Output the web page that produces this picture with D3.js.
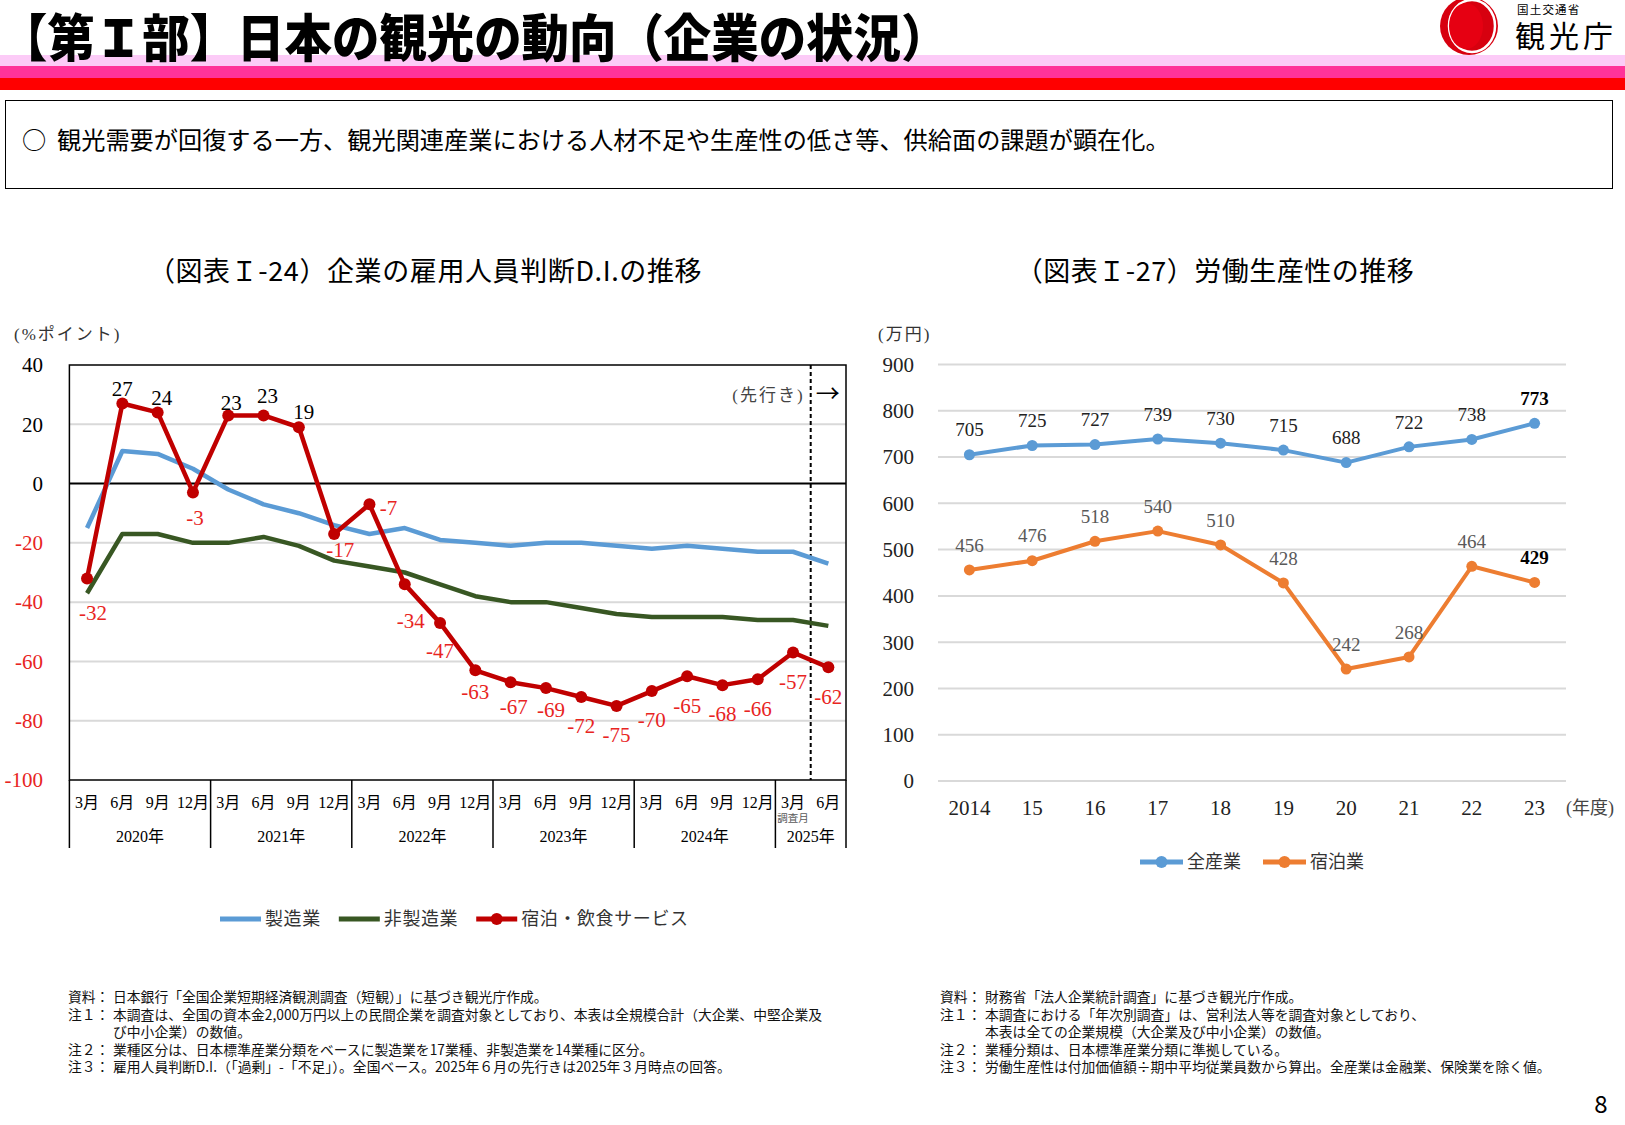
<!DOCTYPE html>
<html>
<head>
<meta charset="utf-8">
<script src="https://cdn.jsdelivr.net/npm/d3@7"></script>
<style>
body { margin: 0; background: #fff; }
</style>
</head>
<body>
<script>
// ---- data ----
const diMonths = ["3月", "6月", "9月", "12月", "3月", "6月", "9月", "12月", "3月", "6月", "9月", "12月",
    "3月", "6月", "9月", "12月", "3月", "6月", "9月", "12月", "3月", "6月"];
const diYears = ["2020年", "2021年", "2022年", "2023年", "2024年", "2025年"];
const manufacturing = [-15, 11, 10, 5, -2, -7, -10, -14, -17, -15, -19, -20, -21, -20, -20, -21, -22, -21, -22, -23, -23, -27];
const nonManufacturing = [-37, -17, -17, -20, -20, -18, -21, -26, -28, -30, -34, -38, -40, -40, -42, -44, -45, -45, -45, -46, -46, -48];
const hospitality = [-32, 27, 24, -3, 23, 23, 19, -17, -7, -34, -47, -63, -67, -69, -72, -75, -70, -65, -68, -66, -57, -62];
const diTicks = [40, 20, 0, -20, -40, -60, -80, -100];

const fiscalYears = ["2014", "15", "16", "17", "18", "19", "20", "21", "22", "23"];
const allIndustries = [705, 725, 727, 739, 730, 715, 688, 722, 738, 773];
const accommodation = [456, 476, 518, 540, 510, 428, 242, 268, 464, 429];
const prodTicks = [0, 100, 200, 300, 400, 500, 600, 700, 800, 900];

const JP = "'Noto Sans CJK JP', 'Noto Sans', sans-serif";
const SERIF = "'Liberation Serif', 'DejaVu Serif', 'Noto Sans CJK JP', serif";
const RED_TXT = "#e8251f";

const svg = d3.select("body").append("svg")
    .attr("width", 1625)
    .attr("height", 1125)
    .style("background", "#fff");

// ---- header ----
svg.append("rect").attr("x", 0).attr("y", 55).attr("width", 1625).attr("height", 11).attr("fill", "#fccbf7");
svg.append("rect").attr("x", 0).attr("y", 66).attr("width", 1625).attr("height", 12).attr("fill", "#ff3399");
svg.append("rect").attr("x", 0).attr("y", 78).attr("width", 1625).attr("height", 12).attr("fill", "#ff0000");

svg.append("text")
    .attr("transform", "translate(0,57) scale(0.93,1)")
    .attr("font-family", JP)
    .attr("font-weight", 900)
    .attr("font-size", 51)
    .text("【第Ｉ部】日本の観光の動向（企業の状況）");

// logo
const logo = svg.append("g");
logo.append("circle").attr("cx", 1469).attr("cy", 26).attr("r", 29).attr("fill", "#d7000f");
logo.append("ellipse").attr("cx", 1472).attr("cy", 26).attr("rx", 23).attr("ry", 26)
    .attr("fill", "none").attr("stroke", "#fff").attr("stroke-width", 2.5);
logo.append("ellipse").attr("cx", 1466).attr("cy", 26).attr("rx", 17).attr("ry", 23).attr("fill", "#e60012");
svg.append("text").attr("x", 1517).attr("y", 14).attr("font-family", JP).attr("font-size", 11.5)
    .attr("letter-spacing", 1.2).text("国土交通省");
svg.append("text").attr("x", 1515).attr("y", 47).attr("font-family", JP).attr("font-size", 30)
    .attr("letter-spacing", 4).text("観光庁");

// summary box
svg.append("rect").attr("x", 5.5).attr("y", 100.5).attr("width", 1607).attr("height", 88)
    .attr("fill", "none").attr("stroke", "#000").attr("stroke-width", 1);
svg.append("text").attr("x", 22).attr("y", 149).attr("font-family", JP).attr("font-size", 24.2)
    .text("○\u00a0\u00a0観光需要が回復する一方、観光関連産業における人材不足や生産性の低さ等、供給面の課題が顕在化。");

// chart titles
svg.append("text").attr("x", 425).attr("y", 281).attr("text-anchor", "middle")
    .attr("font-family", JP).attr("font-size", 27).attr("letter-spacing", 0.6)
    .text("（図表Ｉ-24）企業の雇用人員判断D.I.の推移");
svg.append("text").attr("x", 1215).attr("y", 281).attr("text-anchor", "middle")
    .attr("font-family", JP).attr("font-size", 27).attr("letter-spacing", 0.5)
    .text("（図表Ｉ-27）労働生産性の推移");

// ================= left chart =================
const L = {left: 69.4, right: 846, top: 365, bottom: 780};
const x1 = d3.scalePoint().domain(d3.range(diMonths.length)).range([L.left, L.right]).padding(0.5);
const step1 = x1.step();
const y1 = d3.scaleLinear().domain([-100, 40]).range([L.bottom, L.top]);

const left = svg.append("g");

// grid
left.selectAll(".grid").data(diTicks.filter(d => d !== 0 && d !== 40 && d !== -100)).join("line")
    .attr("x1", L.left).attr("x2", L.right)
    .attr("y1", d => y1(d)).attr("y2", d => y1(d))
    .attr("stroke", "#d9d9d9").attr("stroke-width", 2);

left.append("line").attr("x1", L.left).attr("x2", L.right).attr("y1", y1(0)).attr("y2", y1(0))
    .attr("stroke", "#000").attr("stroke-width", 2);

left.append("rect").attr("x", L.left).attr("y", L.top).attr("width", L.right - L.left).attr("height", L.bottom - L.top)
    .attr("fill", "none").attr("stroke", "#000").attr("stroke-width", 1.5);

// y tick labels
left.selectAll(".ytick").data(diTicks).join("text")
    .attr("x", 43).attr("y", d => y1(d)).attr("dy", "0.35em")
    .attr("text-anchor", "end")
    .attr("font-family", SERIF).attr("font-size", 21)
    .attr("fill", d => d < 0 ? RED_TXT : "#000")
    .text(d => d);

left.append("text").attr("x", 14).attr("y", 340).attr("font-family", SERIF).attr("font-size", 17)
    .attr("letter-spacing", 2).attr("fill", "#333").text("(%ポイント)");

// forecast divider
const forecastX = x1(20) + step1 / 2;
left.append("line").attr("x1", forecastX).attr("x2", forecastX).attr("y1", L.top).attr("y2", L.bottom)
    .attr("stroke", "#000").attr("stroke-width", 2).attr("stroke-dasharray", "4,3");
left.append("text").attr("x", forecastX - 6).attr("y", 395).attr("dy", "0.35em").attr("text-anchor", "end")
    .attr("font-family", SERIF).attr("font-size", 17).attr("letter-spacing", 2).attr("fill", "#444").text("(先行き)");
left.append("text").attr("x", forecastX + 5).attr("y", 394).attr("dy", "0.35em")
    .attr("font-family", JP).attr("font-size", 24).text("→");

// category axis (month / year)
const catBottom = 848;
const yearStarts = diYears.map((d, i) => i * 4);
left.selectAll(".ydiv").data(yearStarts.concat([diMonths.length])).join("line")
    .attr("x1", d => x1(Math.min(d, diMonths.length - 1)) + (d === diMonths.length ? step1 / 2 : -step1 / 2))
    .attr("x2", d => x1(Math.min(d, diMonths.length - 1)) + (d === diMonths.length ? step1 / 2 : -step1 / 2))
    .attr("y1", L.bottom).attr("y2", catBottom)
    .attr("stroke", "#000").attr("stroke-width", 1.5);

left.selectAll(".mlab").data(diMonths).join("text")
    .attr("x", (d, i) => x1(i)).attr("y", 802).attr("dy", "0.35em").attr("text-anchor", "middle")
    .attr("font-family", SERIF).attr("font-size", 16).text(d => d);

left.selectAll(".ylab").data(diYears).join("text")
    .attr("x", (d, i) => {
        const a = i * 4, b = Math.min(i * 4 + 3, diMonths.length - 1);
        return (x1(a) + x1(b)) / 2;
    })
    .attr("y", 836).attr("dy", "0.35em").attr("text-anchor", "middle")
    .attr("font-family", SERIF).attr("font-size", 16).text(d => d);

left.append("text").attr("x", x1(20)).attr("y", 818).attr("dy", "0.35em").attr("text-anchor", "middle")
    .attr("font-family", JP).attr("font-size", 10.5).attr("fill", "#595959").text("調査月");

// lines
const line1 = d3.line().x((d, i) => x1(i)).y(d => y1(d));
left.append("path").attr("d", line1(manufacturing)).attr("fill", "none")
    .attr("stroke", "#5b9bd5").attr("stroke-width", 4.5).attr("stroke-linejoin", "round");
left.append("path").attr("d", line1(nonManufacturing)).attr("fill", "none")
    .attr("stroke", "#385723").attr("stroke-width", 4.5).attr("stroke-linejoin", "round");
left.append("path").attr("d", line1(hospitality)).attr("fill", "none")
    .attr("stroke", "#c00000").attr("stroke-width", 4.5).attr("stroke-linejoin", "round");
left.selectAll(".hdot").data(hospitality).join("circle")
    .attr("cx", (d, i) => x1(i)).attr("cy", d => y1(d)).attr("r", 6).attr("fill", "#c00000");

// label placement tweaks (dx, dy from the point)
const hospLabelShift = {0: [6, 34], 2: [4, -15], 3: [2, 25], 4: [3, -13], 5: [4, -20], 6: [5, -16],
    7: [6, 16], 8: [19, 3], 9: [6, 36], 10: [0, 28], 11: [0, 21], 12: [3, 24], 13: [5, 22]};
left.selectAll(".hlab").data(hospitality).join("text")
    .attr("x", (d, i) => x1(i) + (hospLabelShift[i] ? hospLabelShift[i][0] : 0))
    .attr("y", (d, i) => y1(d) + (hospLabelShift[i] ? hospLabelShift[i][1] : (d >= 0 ? -15 : 29)))
    .attr("dy", "0.35em").attr("text-anchor", "middle")
    .attr("font-family", SERIF).attr("font-size", 21)
    .attr("fill", d => d < 0 ? RED_TXT : "#000")
    .text(d => d);

// legend
const legend1 = [
    {name: "製造業", color: "#5b9bd5", dot: false},
    {name: "非製造業", color: "#385723", dot: false},
    {name: "宿泊・飲食サービス", color: "#c00000", dot: true}
];
const lg1 = svg.append("g");
let lx = 220;
legend1.forEach(item => {
    lg1.append("line").attr("x1", lx).attr("x2", lx + 41).attr("y1", 919).attr("y2", 919)
        .attr("stroke", item.color).attr("stroke-width", 5);
    if (item.dot) lg1.append("circle").attr("cx", lx + 20.5).attr("cy", 919).attr("r", 6).attr("fill", item.color);
    const t = lg1.append("text").attr("x", lx + 45).attr("y", 919).attr("dy", "0.35em")
        .attr("font-family", JP).attr("font-size", 18).attr("letter-spacing", 0.6).attr("fill", "#333").text(item.name);
    lx += 45 + t.node().getComputedTextLength() + 18;
});

// ================= right chart =================
const R = {left: 938, right: 1566, top: 364.5, bottom: 781};
const x2 = d3.scalePoint().domain(fiscalYears).range([R.left, R.right]).padding(0.5);
const y2 = d3.scaleLinear().domain([0, 900]).range([R.bottom, R.top]);
const right = svg.append("g");

right.selectAll(".grid").data(prodTicks).join("line")
    .attr("x1", R.left).attr("x2", R.right)
    .attr("y1", d => y2(d)).attr("y2", d => y2(d))
    .attr("stroke", "#d9d9d9").attr("stroke-width", 2);

right.selectAll(".ytick").data(prodTicks).join("text")
    .attr("x", 914).attr("y", d => y2(d)).attr("dy", "0.35em").attr("text-anchor", "end")
    .attr("font-family", SERIF).attr("font-size", 21).attr("fill", "#222").text(d => d);

right.selectAll(".xtick").data(fiscalYears).join("text")
    .attr("x", d => x2(d)).attr("y", 808).attr("dy", "0.35em").attr("text-anchor", "middle")
    .attr("font-family", SERIF).attr("font-size", 21).attr("fill", "#222").text(d => d);

right.append("text").attr("x", 1566).attr("y", 808).attr("dy", "0.35em")
    .attr("font-family", SERIF).attr("font-size", 18).attr("fill", "#444").text("(年度)");
right.append("text").attr("x", 878).attr("y", 340).attr("font-family", SERIF).attr("font-size", 17)
    .attr("letter-spacing", 2).attr("fill", "#333").text("(万円)");

const line2 = d3.line().x((d, i) => x2(fiscalYears[i])).y(d => y2(d));
const prodSeries = [
    {values: allIndustries, color: "#5b9bd5", label: "#222"},
    {values: accommodation, color: "#ed7d31", label: "#595959"}
];
prodSeries.forEach(s => {
    right.append("path").attr("d", line2(s.values)).attr("fill", "none")
        .attr("stroke", s.color).attr("stroke-width", 4).attr("stroke-linejoin", "round");
    right.selectAll(null).data(s.values).join("circle")
        .attr("cx", (d, i) => x2(fiscalYears[i])).attr("cy", d => y2(d)).attr("r", 5.5).attr("fill", s.color);
    right.selectAll(null).data(s.values).join("text")
        .attr("x", (d, i) => x2(fiscalYears[i])).attr("y", d => y2(d) - 25).attr("dy", "0.35em")
        .attr("text-anchor", "middle").attr("font-family", SERIF).attr("font-size", 19)
        .attr("font-weight", (d, i) => i === s.values.length - 1 ? "bold" : "normal")
        .attr("fill", (d, i) => i === s.values.length - 1 ? "#000" : s.label)
        .text(d => d);
});

const legend2 = [{name: "全産業", color: "#5b9bd5"}, {name: "宿泊業", color: "#ed7d31"}];
const lg2 = svg.append("g");
let lx2 = 1140;
legend2.forEach(item => {
    lg2.append("line").attr("x1", lx2).attr("x2", lx2 + 43).attr("y1", 862).attr("y2", 862)
        .attr("stroke", item.color).attr("stroke-width", 5);
    lg2.append("circle").attr("cx", lx2 + 21.5).attr("cy", 862).attr("r", 6).attr("fill", item.color);
    const t = lg2.append("text").attr("x", lx2 + 47).attr("y", 862).attr("dy", "0.35em")
        .attr("font-family", JP).attr("font-size", 18).attr("fill", "#333").text(item.name);
    lx2 += 47 + t.node().getComputedTextLength() + 22;
});

// ================= notes =================
const notesLeft = [
    ["資料：", "日本銀行「全国企業短期経済観測調査（短観）」に基づき観光庁作成。"],
    ["注１：", "本調査は、全国の資本金2,000万円以上の民間企業を調査対象としており、本表は全規模合計（大企業、中堅企業及"],
    ["", "び中小企業）の数値。"],
    ["注２：", "業種区分は、日本標準産業分類をベースに製造業を17業種、非製造業を14業種に区分。"],
    ["注３：", "雇用人員判断D.I.（「過剰」-「不足」）。全国ベース。2025年６月の先行きは2025年３月時点の回答。"]
];
const notesRight = [
    ["資料：", "財務省「法人企業統計調査」に基づき観光庁作成。"],
    ["注１：", "本調査における「年次別調査」は、営利法人等を調査対象としており、"],
    ["", "本表は全ての企業規模（大企業及び中小企業）の数値。"],
    ["注２：", "業種分類は、日本標準産業分類に準拠している。"],
    ["注３：", "労働生産性は付加価値額÷期中平均従業員数から算出。全産業は金融業、保険業を除く値。"]
];
function drawNotes(notes, x0) {
    const g = svg.append("g").attr("font-family", JP).attr("font-size", 13.8).attr("fill", "#111");
    notes.forEach((n, i) => {
        const y = 1002 + i * 17.5;
        if (n[0]) g.append("text").attr("x", x0).attr("y", y).text(n[0]);
        g.append("text").attr("x", x0 + 45).attr("y", y).text(n[1]);
    });
}
drawNotes(notesLeft, 68);
drawNotes(notesRight, 940);

svg.append("text").attr("x", 1601).attr("y", 1113).attr("text-anchor", "middle")
    .attr("font-family", JP).attr("font-size", 24).text("8");
</script>
</body>
</html>
